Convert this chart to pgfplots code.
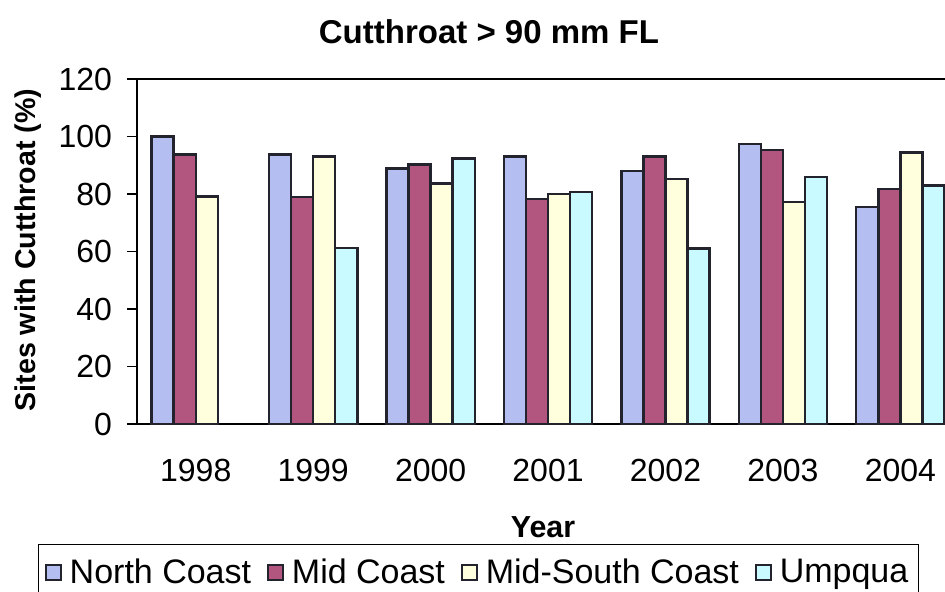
\documentclass[border=0pt]{standalone}
\usepackage{pgfplots}
\pgfplotsset{compat=1.18}
\usepackage{fontspec}
\setmainfont{Liberation Sans}
\definecolor{ncoast}{RGB}{180,190,240}
\definecolor{mcoast}{RGB}{178,86,128}
\definecolor{mscoast}{RGB}{255,255,222}
\definecolor{umpqua}{RGB}{200,250,255}
\definecolor{edge}{RGB}{35,35,45}
\begin{document}
\begin{tikzpicture}
\begin{axis}[
    name=ax, at={(0,0)}, anchor=south west,
    scale only axis, width=404pt, height=172.5pt,
    ybar=0pt, bar width=0.188,
    xmin=-0.5, xmax=6.38, ymin=0, ymax=120,
    axis x line*=bottom, axis y line*=left,
    axis line style={black, line width=0.6pt},
    xtick={0,...,6}, xticklabels={1998,1999,2000,2001,2002,2003,2004},
    major x tick style={draw=none},
    extra x ticks={0.5,1.5,2.5,3.5,4.5,5.5},
    extra x tick labels={},
    extra x tick style={major tick length=5pt, tick align=outside, tick style={black, line width=0.6pt}},
    ytick={0,20,...,120},
    tick align=outside, major tick length=5pt,
    ytick style={black, line width=0.6pt},
    ymajorgrids=false,
    extra y ticks={120}, extra y tick labels={},
    extra y tick style={ymajorgrids=true, grid style={black, line width=0.6pt}},
    tick label style={font=\fontsize{16}{16}\selectfont},
    /pgf/number format/assume math mode=true,
    xticklabel style={yshift=-9pt},
    yticklabel style={xshift=-4pt},
    title={\textbf{Cutthroat > 90 mm FL}},
    title style={font=\fontsize{16.5}{16.5}\selectfont, at={(axis description cs:0.4356,1.101)}, anchor=center},
    ylabel={\textbf{Sites with Cutthroat (\%)}},
    ylabel style={font=\fontsize{14.3}{14.3}\selectfont, at={(axis description cs:-0.135,0.504)}, anchor=center},
    xlabel={\textbf{Year}},
    xlabel style={font=\fontsize{15.2}{15.2}\selectfont, at={(axis description cs:0.5025,-0.2986)}, anchor=center},
    every axis plot/.append style={draw=edge, line width=1.2pt},
    legend columns=4,
    legend style={at={(axis description cs:0.4228,-0.3485)}, anchor=north,
        font=\fontsize{17}{17}\selectfont, draw=black, line width=0.5pt,
        inner xsep=3pt, inner ysep=5pt,
        /tikz/every odd column/.append style={column sep=2pt},
        /tikz/every even column/.append style={column sep=6pt}},
    legend image code/.code={\draw[#1, line width=0.9pt] (0pt,-3.7pt) rectangle (7.5pt,3.7pt);},
]
\addplot[fill=ncoast] coordinates {(0,100) (1,93.8) (2,88.9) (3,93.1) (4,88) (5,97.3) (6,75.5)};
\addplot[fill=mcoast] coordinates {(0,93.8) (1,79) (2,90.3) (3,78.3) (4,93) (5,95.3) (6,81.8)};
\addplot[fill=mscoast] coordinates {(0,79.1) (1,93.1) (2,83.7) (3,80) (4,85.3) (5,77.3) (6,94.4)};
\addplot[fill=umpqua] coordinates {(1,61.3) (2,92.4) (3,80.7) (4,61.1) (5,86) (6,83)};
\legend{North Coast, Mid Coast, Mid-South Coast, Umpqua}
\end{axis}
\pgfresetboundingbox
\path[use as bounding box] (-68.5pt,-84pt) rectangle (404pt,212pt);
\end{tikzpicture}
\end{document}
